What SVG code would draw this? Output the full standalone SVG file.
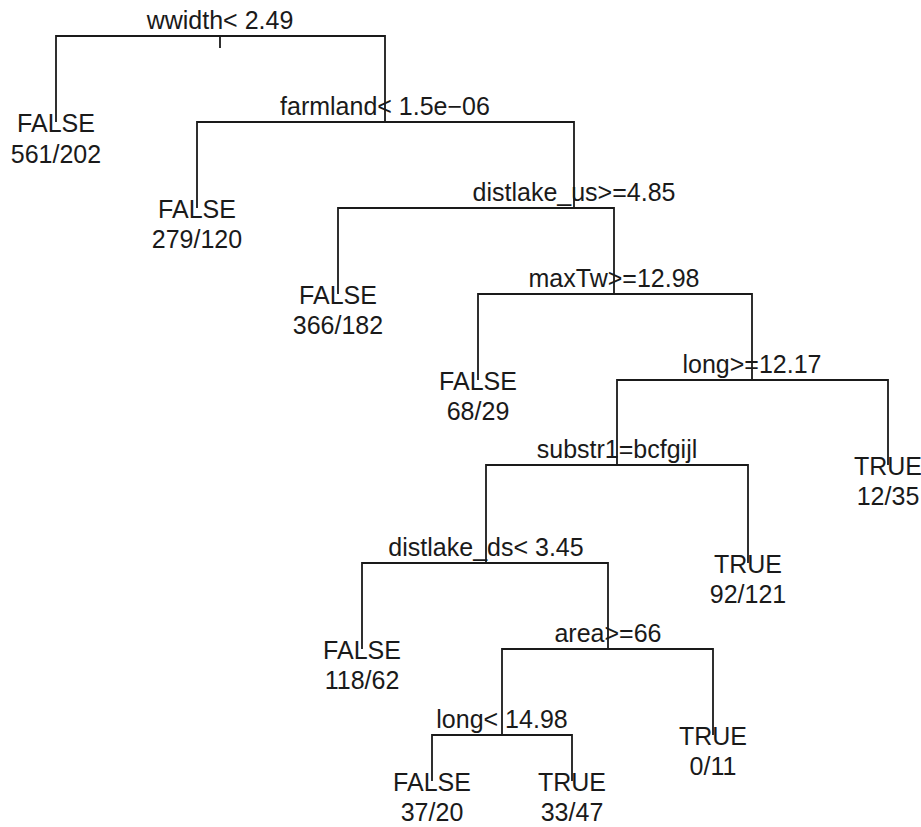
<svg xmlns="http://www.w3.org/2000/svg" width="921" height="827" viewBox="0 0 921 827">
<style>
text{font-family:"Liberation Sans",Arial,sans-serif;font-size:25px;fill:#1a1a1a;text-anchor:middle}
.c path{fill:none;stroke:#1a1a1a;stroke-width:1.8}
</style>
<rect width="921" height="827" fill="#fff"/>
<g class="c" id="connectors">
<path d="M220 36V48"/>
<path d="M56 122V36H385V122"/>
<path d="M197 208V122H574V208"/>
<path d="M338 294V208H614V294"/>
<path d="M478 380V294H752V380"/>
<path d="M617 465V380H888V465"/>
<path d="M486 563V465H748V563"/>
<path d="M362 649V563H608V649"/>
<path d="M502 735V649H713V735"/>
<path d="M432 781V735H572V781"/>
</g>
<g id="n_root"><text x="220" y="29">wwidth&lt; 2.49</text></g>
<g id="n_farmland"><text x="385" y="115">farmland&lt; 1.5e−06</text></g>
<g id="n_distlake_us"><text x="574" y="201">distlake_us&gt;=4.85</text></g>
<g id="n_maxTw"><text x="614" y="287">maxTw&gt;=12.98</text></g>
<g id="n_long1"><text x="752" y="373">long&gt;=12.17</text></g>
<g id="n_substr1"><text x="617" y="458">substr1=bcfgijl</text></g>
<g id="n_distlake_ds"><text x="486" y="556">distlake_ds&lt; 3.45</text></g>
<g id="n_area"><text x="608" y="642">area&gt;=66</text></g>
<g id="n_long2"><text x="502" y="728">long&lt; 14.98</text></g>
<g id="leaf1"><text x="56" y="132">FALSE</text><text x="56" y="163">561/202</text></g>
<g id="leaf2"><text x="197" y="218">FALSE</text><text x="197" y="248">279/120</text></g>
<g id="leaf3"><text x="338" y="304">FALSE</text><text x="338" y="334">366/182</text></g>
<g id="leaf4"><text x="478" y="390">FALSE</text><text x="478" y="420">68/29</text></g>
<g id="leaf5"><text x="888" y="475">TRUE</text><text x="888" y="505">12/35</text></g>
<g id="leaf6"><text x="748" y="573">TRUE</text><text x="748" y="603">92/121</text></g>
<g id="leaf7"><text x="362" y="659">FALSE</text><text x="362" y="689">118/62</text></g>
<g id="leaf8"><text x="713" y="745">TRUE</text><text x="713" y="775">0/11</text></g>
<g id="leaf9"><text x="432" y="791">FALSE</text><text x="432" y="821">37/20</text></g>
<g id="leaf10"><text x="572" y="791">TRUE</text><text x="572" y="821">33/47</text></g>
</svg>
